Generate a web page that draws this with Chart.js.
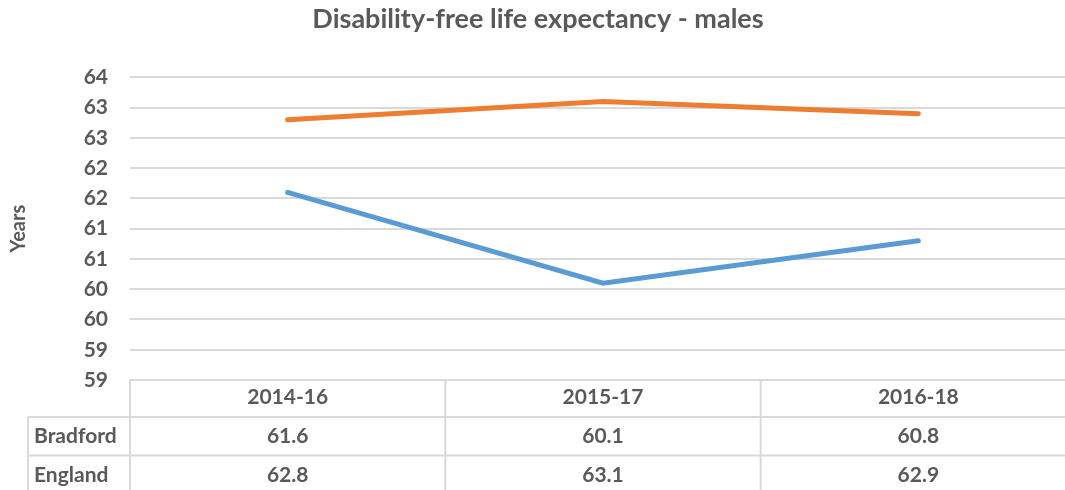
<!DOCTYPE html>
<html>
<head>
<meta charset="utf-8">
<script src="https://cdn.jsdelivr.net/npm/chart.js@4.4.1/dist/chart.umd.min.js"></script>
<style>
  html, body { margin: 0; padding: 0; background: #fff; overflow: hidden; }
  #wrap { width: 1080px; height: 490px; }
</style>
</head>
<body>
<div id="wrap"><canvas id="myChart" width="1080" height="490"></canvas></div>
<script>
// chart data
const periods = ['2014-16', '2015-17', '2016-18'];
const bradford = [61.6, 60.1, 60.8];
const england = [62.8, 63.1, 62.9];
const seriesNames = ['Bradford', 'England'];
const yMin = 58.5, yMax = 63.5, yStep = 0.5;

const gridGrey = '#d9d9d9';
const textGrey = '#595959';
const fontFam = 'Lato, "Open Sans", sans-serif';

// draws the data table under the plot, Excel style
const dataTable = {
  id: 'dataTable',
  afterDraw(chart) {
    const ctx = chart.ctx;
    const area = chart.chartArea;
    const x = chart.scales.x;
    const rows = [bradford, england];
    const top = area.bottom;
    const rowH = 38.5;
    const firstRow = top + 37;
    const leftEdge = 28;
    const bottom = 494;

    ctx.save();
    ctx.strokeStyle = gridGrey;
    ctx.lineWidth = 2;
    ctx.beginPath();
    for (let r = 0; r < rows.length; r++) {
      const y = firstRow + r * rowH;
      ctx.moveTo(leftEdge, y);
      ctx.lineTo(area.right, y);
    }
    ctx.moveTo(leftEdge, firstRow);
    ctx.lineTo(leftEdge, bottom);
    const colW = (area.right - area.left) / periods.length;
    for (let i = 0; i <= periods.length; i++) {
      const cx = area.left + i * colW;
      ctx.moveTo(cx, top);
      ctx.lineTo(cx, bottom);
    }
    ctx.stroke();

    ctx.fillStyle = textGrey;
    ctx.font = 'bold 21px ' + fontFam;
    ctx.textBaseline = 'middle';
    rows.forEach((vals, r) => {
      const cy = firstRow + r * rowH + rowH / 2;
      ctx.textAlign = 'left';
      ctx.fillText(seriesNames[r], leftEdge + 6, cy);
      ctx.textAlign = 'center';
      vals.forEach((v, i) => {
        ctx.fillText(v.toFixed(1), x.getPixelForValue(i), cy);
      });
    });
    ctx.restore();
  }
};

const ctx = document.getElementById('myChart').getContext('2d');
const myChart = new Chart(ctx, {
  type: 'line',
  data: {
    labels: periods,
    datasets: [{
      label: seriesNames[0],
      data: bradford,
      borderColor: '#5b9bd5',
      borderWidth: 5,
      pointRadius: 0,
      borderCapStyle: 'round',
      tension: 0
    }, {
      label: seriesNames[1],
      data: england,
      borderColor: '#ed7d31',
      borderWidth: 5,
      pointRadius: 0,
      borderCapStyle: 'round',
      tension: 0
    }]
  },
  options: {
    responsive: false,
    animation: false,
    layout: { padding: { top: 0, right: 4, bottom: 0, left: 0 } },
    plugins: {
      legend: { display: false },
      tooltip: { enabled: false },
      title: {
        display: true,
        text: 'Disability-free life expectancy - males',
        color: textGrey,
        font: { family: fontFam, size: 27, weight: 'bold' },
        padding: { top: 3, bottom: 42 }
      }
    },
    scales: {
      x: {
        offset: true,
        grid: { display: false, drawTicks: false },
        border: { display: true, color: gridGrey, width: 2 },
        ticks: {
          color: textGrey,
          padding: 5,
          font: { family: fontFam, size: 21, weight: 'bold' }
        },
        afterFit(scale) { scale.height = 110; }
      },
      y: {
        min: yMin,
        max: yMax,
        border: { display: false },
        grid: { color: gridGrey, lineWidth: 2, drawTicks: false },
        ticks: {
          stepSize: yStep,
          color: textGrey,
          padding: 22,
          font: { family: fontFam, size: 21, weight: 'bold' },
          callback: (v) => Math.round(v)
        },
        title: {
          display: true,
          text: 'Years',
          color: textGrey,
          padding: { top: 7, bottom: 0 },
          font: { family: fontFam, size: 20, weight: 'bold' }
        },
        afterFit(scale) { scale.width = 130; }
      }
    }
  },
  plugins: [dataTable]
});
myChart.update();
</script>
</body>
</html>
